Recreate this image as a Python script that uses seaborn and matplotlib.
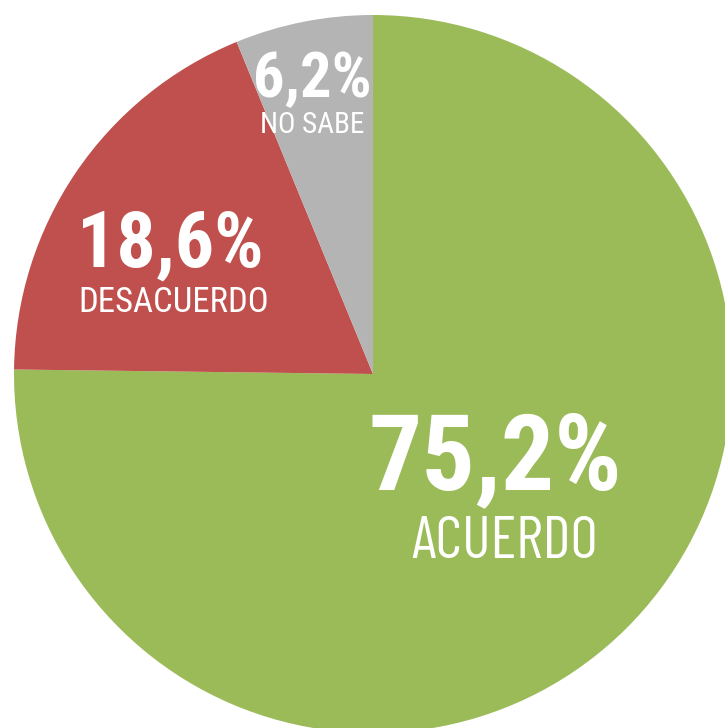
import matplotlib
matplotlib.use("Agg")
import matplotlib.pyplot as plt
import seaborn as sns

categories = ["ACUERDO", "DESACUERDO", "NO SABE"]
values = [75.2, 18.6, 6.2]
value_labels = ["75,2%", "18,6%", "6,2%"]
colors = ["#9BBB59", "#C0504D", "#B4B4B4"]

sns.set_theme(style="white")
plt.rcParams["font.family"] = ["Roboto Condensed", "DejaVu Sans"]

W, H = 725, 728
CX, CY, R = 373, 374, 359

fig = plt.figure(figsize=(W / 100, H / 100), dpi=100)
ax = fig.add_axes([0, 0, 1, 1])
ax.pie(values, colors=colors, startangle=90, counterclock=False,
       radius=1.0, center=(0, 0), wedgeprops=dict(linewidth=0))
ax.set_xlim(-CX / R, (W - CX) / R)
ax.set_ylim(-(H - CY) / R, CY / R)
ax.set_aspect("auto")
ax.axis("off")

def d(px, py):
    return (px - CX) / R, (CY - py) / R

# (value pos, value size, name pos, name size, name family)
layout = [
    ((495, 450), 76, (505, 537), 43, ["Barlow Condensed", "Roboto Condensed"]),
    ((170, 238), 56, (174, 299), 25, ["Roboto Condensed"]),
    ((312, 74), 45, (312, 122), 21, ["Roboto Condensed"]),
]
for (vp, vs, np_, ns, fam), lab, cat in zip(layout, value_labels, categories):
    x, y = d(*vp)
    ax.text(x, y, lab, color="white", fontsize=vs, fontweight="bold",
            ha="center", va="center_baseline")
    x, y = d(*np_)
    ax.text(x, y, cat, color="white", fontsize=ns, fontweight="normal",
            family=fam, ha="center", va="center_baseline")

fig.savefig("out.png", dpi=100, facecolor="white")
